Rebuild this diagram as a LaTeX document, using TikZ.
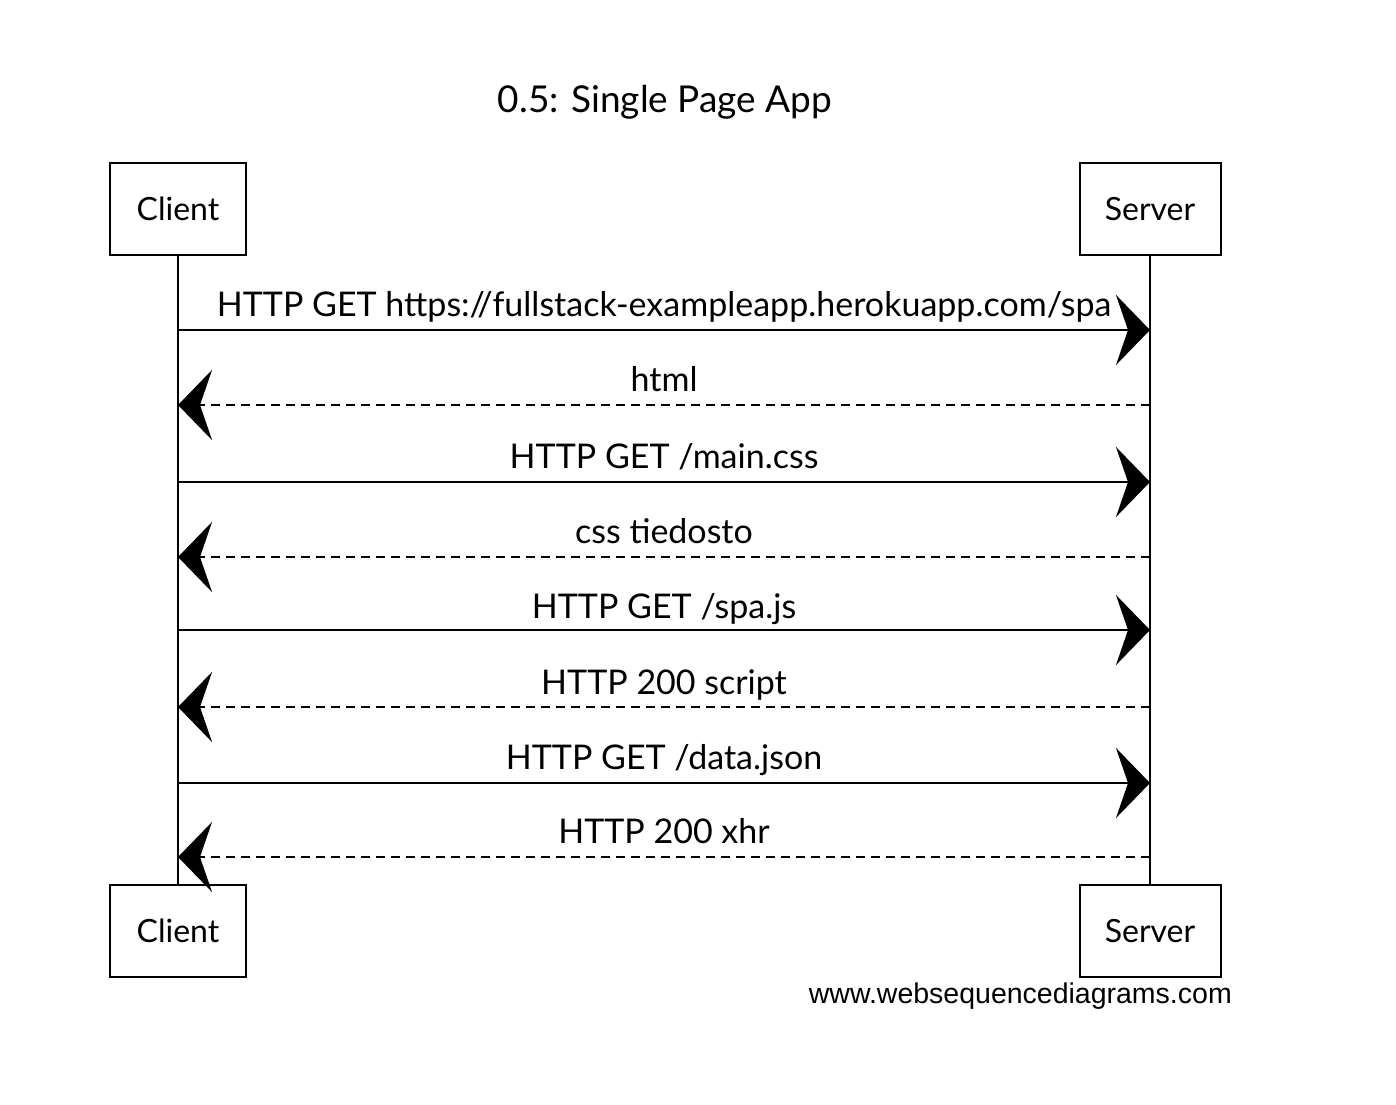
\documentclass[tikz,border=0pt]{standalone}
\usepackage{fontspec}
\setmainfont{Lato}
\newfontfamily\footfont{Liberation Sans}
\usetikzlibrary{arrows.meta}
\begin{document}
\begin{tikzpicture}[x=1pt,y=-1pt,
  actor/.style={draw,line width=2pt,minimum width=136pt,minimum height=92pt,inner sep=0pt,font=\fontsize{32}{38}\selectfont},
  life/.style={line width=1.5pt},
  msgsolid/.style={line width=2.4pt,-{Stealth[length=34pt,width=70pt,inset=12pt]}},
  msgdash/.style={msgsolid,dash pattern=on 9pt off 6pt},
  lbl/.style={font=\fontsize{34}{40}\selectfont,inner sep=0pt,anchor=base}]
\useasboundingbox (0,0) rectangle (1396,1104);
\fill[white] (0,0) rectangle (1396,1104);
\node[font=\fontsize{37}{44}\selectfont,inner sep=0pt] (title) at (665,102) {0.5: Single Page App};
\node[actor] (ct) at (178,209) {Client};
\node[actor,minimum width=141pt] (st) at (1150,209) {Server};
\node[actor] (cb) at (178,931) {Client};
\node[actor,minimum width=141pt] (sb) at (1150,931) {Server};
\draw[life] (ct.south) -- (cb.north);
\draw[life] (st.south) -- (sb.north);
\foreach \i/\y in {1/330,2/405,3/482,4/557,5/630,6/707,7/783,8/857}{
  \coordinate (c\i) at (178,\y);
  \coordinate (s\i) at (1150,\y);
}
\draw[msgsolid] (c1) -- (s1);
\draw[msgdash] (s2) -- (c2);
\draw[msgsolid] (c3) -- (s3);
\draw[msgdash] (s4) -- (c4);
\draw[msgsolid] (c5) -- (s5);
\draw[msgdash] (s6) -- (c6);
\draw[msgsolid] (c7) -- (s7);
\draw[msgdash] (s8) -- (c8);
\node[lbl] (l1) at (664,316) {HTTP GET https://fullstack-exampleapp.herokuapp.com/spa};
\node[lbl] (l2) at (664,391) {html};
\node[lbl] (l3) at (664,468) {HTTP GET /main.css};
\node[lbl] (l4) at (664,543) {css tiedosto};
\node[lbl] (l5) at (664,618) {HTTP GET /spa.js};
\node[lbl] (l6) at (664,694) {HTTP 200 script};
\node[lbl] (l7) at (664,769) {HTTP GET /data.json};
\node[lbl] (l8) at (664,843) {HTTP 200 xhr};
\node[font=\footfont\fontsize{28.5}{32}\selectfont,inner sep=0pt,anchor=base east] (foot) at (1232,1003) {www.websequencediagrams.com};
\end{tikzpicture}
\end{document}
